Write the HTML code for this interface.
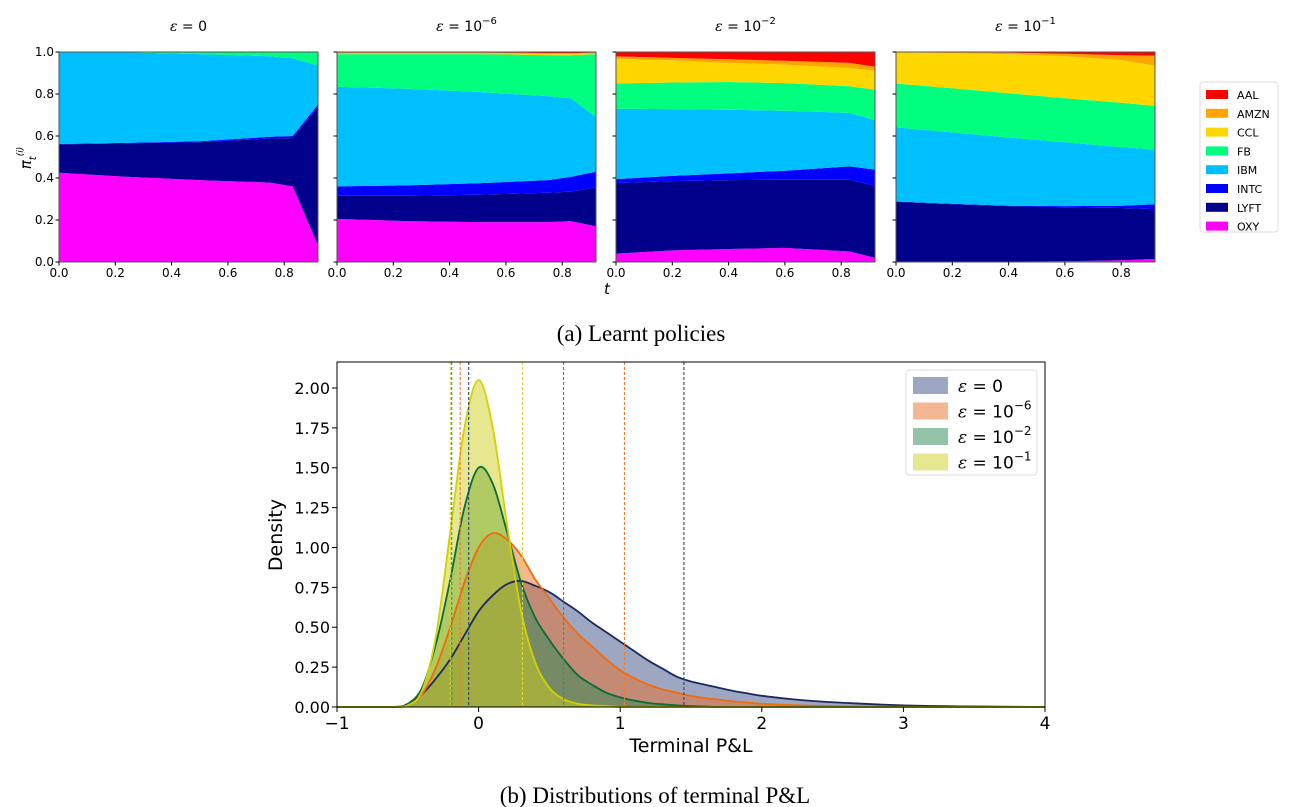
<!DOCTYPE html>
<html><head><meta charset="utf-8">
<style>
html,body{margin:0;padding:0;background:#fff;}
svg{display:block;}
text{font-family:"DejaVu Sans","Liberation Sans",sans-serif;fill:#000;}
.serif{font-family:"Liberation Serif","DejaVu Serif",serif;}
</style></head>
<body>
<svg id="fig" width="1293" height="807" viewBox="0 0 1293 807" xmlns="http://www.w3.org/2000/svg">
<g id="topPanels"></g>
<g id="bottom"></g>
<text class="serif" x="641" y="341" font-size="23" text-anchor="middle">(a) Learnt policies</text>
<text class="serif" x="655" y="803" font-size="23" text-anchor="middle">(b) Distributions of terminal P&amp;L</text>
</svg>
<script>
const NS="http://www.w3.org/2000/svg";
// ---------- top panel data ----------
const assets=["OXY","LYFT","INTC","IBM","FB","CCL","AMZN","AAL"];
const assetColors=["#ff00ff","#00008b","#0000ff","#00bfff","#00ff7f","#ffd700","#ffa500","#ff0000"];
const panelTitles=["0","10","10","10"];
const panelExps=["","−6","−2","−1"];
const t1=[0,0.25,0.5,0.75,0.83,0.92];
const p1OXY=[.425,.405,.39,.378,.36,.08];
const p1LYFT=[.135,.16,.18,.21,.23,.66];
const p1INTC=[.002,.003,.005,.008,.01,.01];
const p1IBM=[.438,.43,.415,.384,.37,.185];
const p1FB=[0,.002,.01,.02,.03,.065];
const p1CCL=[0,0,0,0,0,0];
const p1AMZN=[0,0,0,0,0,0];
const p1AAL=[0,0,0,0,0,0];
const t2=[0,0.25,0.5,0.75,0.83,0.92];
const p2OXY=[.205,.195,.19,.19,.195,.17];
const p2LYFT=[.11,.12,.13,.14,.14,.185];
const p2INTC=[.045,.05,.055,.06,.07,.075];
const p2IBM=[.475,.46,.435,.40,.375,.26];
const p2FB=[.155,.165,.18,.195,.205,.30];
const p2CCL=[.003,.003,.003,.005,.005,.003];
const p2AMZN=[.004,.004,.004,.005,.005,.004];
const p2AAL=[.003,.003,.003,.005,.005,.003];
const t3=[0,0.2,0.4,0.6,0.83,0.92];
const p3OXY=[.04,.055,.062,.067,.05,.02];
const p3LYFT=[.336,.33,.328,.325,.342,.343];
const p3INTC=[.019,.025,.032,.043,.063,.077];
const p3IBM=[.335,.318,.303,.285,.255,.235];
const p3FB=[.12,.127,.132,.132,.127,.145];
const p3CCL=[.118,.105,.091,.088,.087,.09];
const p3AMZN=[.011,.012,.017,.018,.024,.02];
const p3AAL=[.021,.028,.035,.042,.052,.07];
const t4=[0,0.2,0.4,0.6,0.8,0.92];
const p4OXY=[0,0,.002,.004,.008,.015];
const p4LYFT=[.287,.275,.264,.257,.249,.237];
const p4INTC=[.001,.002,.002,.005,.011,.023];
const p4IBM=[.353,.340,.325,.304,.279,.260];
const p4FB=[.209,.21,.211,.21,.211,.209];
const p4CCL=[.148,.168,.186,.20,.204,.191];
const p4AMZN=[.001,.003,.006,.012,.023,.048];
const p4AAL=[.001,.002,.004,.008,.015,.017];
const xTicksTop=[0,0.2,0.4,0.6,0.8];
const yTicksTop=[0,0.2,0.4,0.6,0.8,1.0];

const panels=[
 {t:t1,s:[p1OXY,p1LYFT,p1INTC,p1IBM,p1FB,p1CCL,p1AMZN,p1AAL]},
 {t:t2,s:[p2OXY,p2LYFT,p2INTC,p2IBM,p2FB,p2CCL,p2AMZN,p2AAL]},
 {t:t3,s:[p3OXY,p3LYFT,p3INTC,p3IBM,p3FB,p3CCL,p3AMZN,p3AAL]},
 {t:t4,s:[p4OXY,p4LYFT,p4INTC,p4IBM,p4FB,p4CCL,p4AMZN,p4AAL]}];
const panelX=[59,337,616,896], PW=259, PT=52, PB=262, TMAX=0.92;

function mk(tag,attrs,parent){const e=document.createElementNS(NS,tag);for(const k in attrs)e.setAttribute(k,attrs[k]);parent.appendChild(e);return e;}
const topG=document.getElementById('topPanels');
panels.forEach((p,pi)=>{
  const x0=panelX[pi];
  const sx=t=>x0+t/TMAX*PW, sy=v=>PB-v*(PB-PT);
  const g=mk('g',{},topG);
  
  
  const cum=p.t.map(()=>0);
  p.s.forEach((vals,ai)=>{
    const lo=cum.slice(); vals.forEach((v,i)=>cum[i]+=v);
    let d='M'+p.t.map((t,i)=>sx(t).toFixed(1)+','+sy(Math.min(cum[i],1)).toFixed(1)).join('L');
    for(let i=p.t.length-1;i>=0;i--) d+='L'+sx(p.t[i]).toFixed(1)+','+sy(lo[i]).toFixed(1);
    const a=mk('path',{d:d+'Z',fill:assetColors[ai]},g);
    
    
  });
  mk('rect',{x:x0,y:PT,width:PW,height:PB-PT,fill:'none',stroke:'#555','stroke-width':1},g);
  xTicksTop.forEach(t=>{
    mk('line',{x1:sx(t),x2:sx(t),y1:PB,y2:PB+3.5,stroke:'#000'},g);
    const tx=mk('text',{x:sx(t),y:PB+15,'font-size':12,'text-anchor':'middle'},g);tx.textContent=t.toFixed(1);
    
    
  });
  yTicksTop.forEach(v=>{
    mk('line',{x1:x0-3.5,x2:x0,y1:sy(v),y2:sy(v),stroke:'#000'},g);
    if(pi===0){const tx=mk('text',{x:x0-5,y:sy(v)+4,'font-size':12,'text-anchor':'end'},g);tx.textContent=v.toFixed(1);
      
      }
  });
  const tt=mk('text',{x:x0+PW/2,y:31,'font-size':14,'text-anchor':'middle'},g);
  
  
  tt.innerHTML='<tspan font-style="italic" font-family="DejaVu Serif, serif">ε</tspan> = '+panelTitles[pi]+(panelExps[pi]?'<tspan dy="-7" font-size="10">'+panelExps[pi]+'</tspan>':'');
});
{const yl=mk('text',{x:0,y:0,'font-size':15,'font-style':'italic',transform:'translate(31,158) rotate(-90)','text-anchor':'middle','font-family':'DejaVu Serif, serif'},topG);
 yl.innerHTML='π<tspan dy="5" font-size="10">t</tspan><tspan dy="-13" font-size="9">(i)</tspan>';
 
 
 const tl=mk('text',{x:607,y:294,'font-size':15,'font-style':'italic','text-anchor':'middle','font-family':'DejaVu Serif, serif'},topG);tl.textContent='t';
 
 }
{const lg=mk('g',{},topG);
 
 
 mk('rect',{x:1200,y:82,width:78,height:150,rx:3,fill:'#fff',stroke:'#ddd'},lg);
 const order=["AAL","AMZN","CCL","FB","IBM","INTC","LYFT","OXY"];
 order.forEach((n,i)=>{
  const ai=assets.indexOf(n), y=90+i*18.8;
  const e=mk('g',{},lg);
  
  
  mk('rect',{x:1206,y:y,width:22,height:9,fill:assetColors[ai]},e);
  const tx=mk('text',{x:1237,y:y+9,'font-size':11},e);tx.textContent=n;
 });}

// ---------- bottom chart data ----------
const pnlX=[-1,-0.6,-0.5,-0.4,-0.3,-0.2,-0.1,0,0.1,0.2,0.3,0.4,0.5,0.6,0.7,0.8,0.9,1.0,1.1,1.2,1.3,1.4,1.5,1.6,1.7,1.8,1.9,2.0,2.2,2.4,2.6,2.8,3.0,3.3,3.6,4.0];
const dens0=[0,0,.02,.08,.18,.30,.45,.60,.70,.77,.79,.76,.72,.66,.60,.53,.47,.41,.35,.29,.24,.19,.16,.14,.12,.10,.085,.07,.05,.035,.025,.017,.01,.005,.003,0];
const dens6=[0,0,.01,.08,.25,.5,.78,1.0,1.09,1.05,.95,.80,.68,.56,.46,.38,.30,.23,.18,.14,.11,.09,.07,.055,.045,.035,.028,.02,.012,.007,.004,.002,.001,0,0,0];
const dens2=[0,0,.02,.12,.40,.80,1.25,1.5,1.40,1.10,.78,.56,.42,.30,.20,.14,.09,.06,.04,.025,.017,.01,.006,.003,0,0,0,0,0,0,0,0,0,0,0,0];
const dens1=[0,0,.01,.10,.45,1.10,1.75,2.05,1.75,1.15,.60,.28,.12,.05,.02,.01,.005,0,0,0,0,0,0,0,0,0,0,0,0,0,0,0,0,0,0,0];
const quantLo=[-0.07,-0.13,-0.19,-0.20];
const quantHi=[1.45,1.03,0.60,0.31];
const seriesLabels=["0","10","10","10"];
const seriesExps=["","−6","−2","−1"];
const xTicksB=[-1,0,1,2,3,4];
const yTicksB=[0,0.25,0.5,0.75,1.0,1.25,1.5,1.75,2.0];

const lineCols=["#1b2a5e","#f26a0a","#0b6b3a","#d2d200"];
const fillCols=["rgba(60,80,132,0.5)","rgba(234,112,42,0.5)","rgba(40,138,85,0.5)","rgba(206,208,30,0.5)"];
const dashCols=["#2e3f75","#f07a30","#1f9a7a","#d8d830"];
const dens=[dens0,dens6,dens2,dens1];
const AX0=337,AX1=1045,AY0=707,AY1=362,YMAX=2.163;
const bx=v=>AX0+(v+1)/5*(AX1-AX0), by=v=>AY0-v/YMAX*(AY0-AY1);
const B=document.getElementById('bottom');
function smooth(pts){
  let d='M'+pts[0][0].toFixed(1)+','+pts[0][1].toFixed(1);
  for(let i=0;i<pts.length-1;i++){
    const p0=pts[Math.max(i-1,0)],p1=pts[i],p2=pts[i+1],p3=pts[Math.min(i+2,pts.length-1)];
    const c1x=p1[0]+(p2[0]-p0[0])/6, c1y=Math.min(AY0,p1[1]+(p2[1]-p0[1])/6);
    const c2x=p2[0]-(p3[0]-p1[0])/6, c2y=Math.min(AY0,p2[1]-(p3[1]-p1[1])/6);
    d+='C'+c1x.toFixed(1)+','+c1y.toFixed(1)+' '+c2x.toFixed(1)+','+c2y.toFixed(1)+' '+p2[0].toFixed(1)+','+p2[1].toFixed(1);
  }
  return d;
}
const curves=dens.map(d=>smooth(pnlX.map((x,i)=>[bx(x),by(d[i])])));
curves.forEach((c,si)=>{
  const f=mk('path',{d:c+'L'+bx(4)+','+by(0)+'L'+bx(-1)+','+by(0)+'Z',fill:fillCols[si]},B);
  
  
});
curves.forEach((c,si)=>{
  const l=mk('path',{d:c,fill:'none',stroke:lineCols[si],'stroke-width':1.8,'stroke-linejoin':'round'},B);
  
  
});
[quantLo,quantHi].forEach(q=>q.forEach((v,si)=>{
  const l=mk('line',{x1:bx(v),x2:bx(v),y1:AY1,y2:AY0,stroke:dashCols[si],'stroke-width':1.1,'stroke-dasharray':'3,2'},B);
  
  
}));
mk('rect',{x:AX0,y:AY1,width:AX1-AX0,height:AY0-AY1,fill:'none',stroke:'#000','stroke-width':1},B);
xTicksB.forEach(v=>{
  mk('line',{x1:bx(v),x2:bx(v),y1:AY0,y2:AY0+5,stroke:'#000'},B);
  const t=mk('text',{x:bx(v),y:AY0+22,'font-size':17,'text-anchor':'middle'},B);t.textContent=v<0?'−'+(-v):String(v);
  
  
});
yTicksB.forEach(v=>{
  mk('line',{x1:AX0-5,x2:AX0,y1:by(v),y2:by(v),stroke:'#000'},B);
  const t=mk('text',{x:AX0-7,y:by(v)+6,'font-size':16,'text-anchor':'end'},B);t.textContent=v.toFixed(2);
  
  
});
{const xl=mk('text',{x:691,y:752,'font-size':19,'text-anchor':'middle'},B);xl.textContent='Terminal P&L';
 
 
 const yl=mk('text',{x:0,y:0,'font-size':19,'text-anchor':'middle',transform:'translate(282,535) rotate(-90)'},B);yl.textContent='Density';
 
 }
{const lg=mk('g',{},B);
 
 
 mk('rect',{x:906,y:370,width:131,height:105,rx:3,fill:'#fff','fill-opacity':0.85,stroke:'#ddd'},lg);
 seriesLabels.forEach((s,i)=>{
  const y=377+i*25.5;
  const e=mk('g',{},lg);
  
  
  mk('rect',{x:913,y:y,width:35,height:17,fill:fillCols[i]},e);
  const t=mk('text',{x:958,y:y+15,'font-size':17},e);
  t.innerHTML='<tspan font-style="italic" font-family="DejaVu Serif, serif">ε</tspan> = '+s+(seriesExps[i]?'<tspan dy="-8" font-size="12">'+seriesExps[i]+'</tspan>':'');
 });}
</script>
</body></html>
